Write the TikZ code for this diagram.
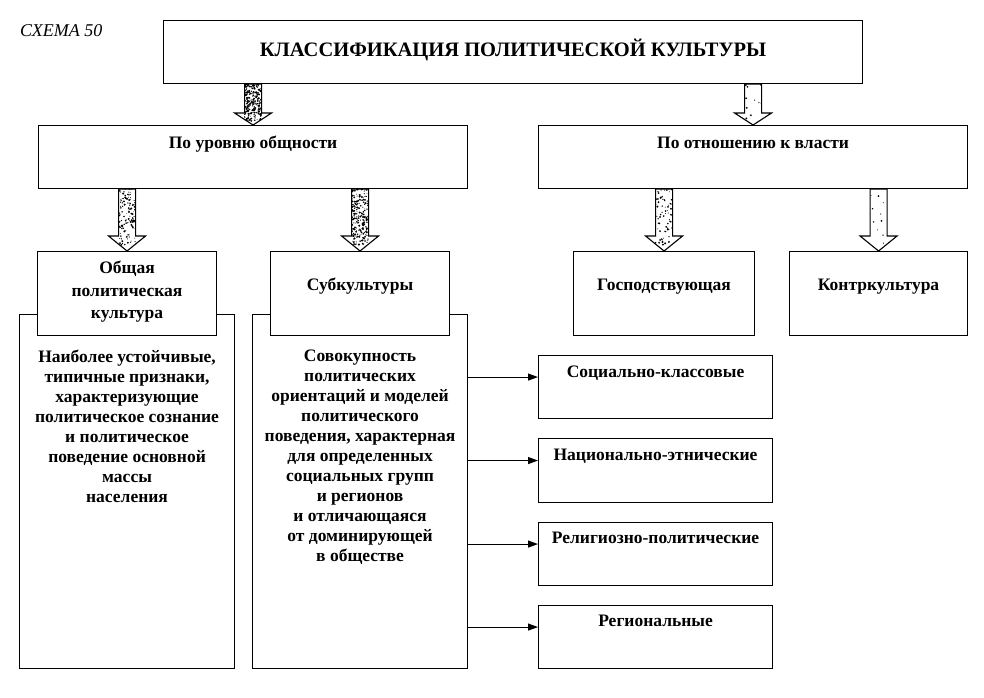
\documentclass[tikz,border=0pt]{standalone}
\usepackage{fontspec}
\setmainfont{Liberation Serif}
\usetikzlibrary{calc,arrows.meta}
\tikzset{
  box/.style={draw, line width=1.1pt, fill=white, inner sep=0pt, anchor=north west},
  txt/.style={font=\bfseries\fontsize{17.5}{20}\selectfont, align=center, inner sep=0pt},
  conn/.style={line width=1.1pt, -{Triangle[length=10pt,width=7pt]}},
}
\newcommand\hollowarrow[5]{%
  \coordinate (ha-s) at (#1.south -| #2.north);
  \coordinate (ha-e) at (#2.north);
  \fill[white] ([xshift=-8.5pt]ha-s) -- ([xshift=-8.5pt,yshift=#3]ha-e) -- ([xshift=-18.5pt,yshift=#3]ha-e) -- (ha-e) -- ([xshift=18.5pt,yshift=#3]ha-e) -- ([xshift=8.5pt,yshift=#3]ha-e) -- ([xshift=8.5pt]ha-s) -- cycle;
  \begin{scope}
    \clip ([xshift=-8.5pt]ha-s) -- ([xshift=-8.5pt,yshift=#3]ha-e) -- ([xshift=-18.5pt,yshift=#3]ha-e) -- (ha-e) -- ([xshift=18.5pt,yshift=#3]ha-e) -- ([xshift=8.5pt,yshift=#3]ha-e) -- ([xshift=8.5pt]ha-s) -- cycle;
    \pgfmathsetseed{#5}
    \foreach \k in {1,...,#4}{%
      \pgfmathsetmacro\rr{0.4+0.75*rnd}%
      \pgfmathsetmacro\ff{0.9*rnd}%
      \pgfmathsetmacro\dx{(rnd-0.5)*17}%
      \fill ($(ha-s)!\ff!(ha-e)+(\dx,0)$) circle (\rr pt);
    }
  \end{scope}
  \draw[line width=1.1pt, line join=miter] ([xshift=-8.5pt]ha-s) -- ([xshift=-8.5pt,yshift=#3]ha-e) -- ([xshift=-18.5pt,yshift=#3]ha-e) -- (ha-e) -- ([xshift=18.5pt,yshift=#3]ha-e) -- ([xshift=8.5pt,yshift=#3]ha-e) -- ([xshift=8.5pt]ha-s) -- cycle;
}
\begin{document}
\begin{tikzpicture}[x=1pt,y=-1pt]
\useasboundingbox (0,0) rectangle (984,697);
\fill[white] (0,0) rectangle (984,697);

\node[anchor=base west, inner sep=0pt, font=\itshape\fontsize{18}{20}\selectfont] (schema) at (20,36) {СХЕМА 50};

% boxes
\node[box, minimum width=699pt, minimum height=63pt] (title) at (163,20) {};
\node[box, minimum width=429pt, minimum height=63pt] (mid1) at (38,125) {};
\node[box, minimum width=429pt, minimum height=63pt] (mid2) at (538,125) {};
\node[box, minimum width=215pt, minimum height=354pt] (big1) at (19,314) {};
\node[box, minimum width=215pt, minimum height=354pt] (big2) at (252,314) {};
\node[box, minimum width=179pt, minimum height=84pt] (h1) at (37,251) {};
\node[box, minimum width=179pt, minimum height=84pt] (h2) at (270,251) {};
\node[box, minimum width=181pt, minimum height=84pt] (h3) at (573,251) {};
\node[box, minimum width=178pt, minimum height=84pt] (h4) at (789,251) {};
\node[box, minimum width=234pt, minimum height=63pt] (r1) at (538,355) {};
\node[box, minimum width=234pt, minimum height=64pt] (r2) at (538,438) {};
\node[box, minimum width=234pt, minimum height=63pt] (r3) at (538,522) {};
\node[box, minimum width=234pt, minimum height=63pt] (r4) at (538,605) {};

% texts
\node[txt, anchor=base, font=\bfseries\fontsize{20.5}{24}\selectfont] (title-t) at (title.center |- 0,56.5) {КЛАССИФИКАЦИЯ ПОЛИТИЧЕСКОЙ КУЛЬТУРЫ};
\node[txt, anchor=base] (mid1-t) at (mid1.center |- 0,148) {По уровню общности};
\node[txt, anchor=base] (mid2-t) at (mid2.center |- 0,148) {По отношению к власти};
\node[txt, anchor=north, font=\bfseries\fontsize{17.5}{22.5}\selectfont] (h1-t) at (h1.center |- 0,261) {Общая\\политическая\\культура};
\node[txt, anchor=base] (h2-t) at (h2.center |- 0,290) {Субкультуры};
\node[txt, anchor=base] (h3-t) at (h3.center |- 0,290) {Господствующая};
\node[txt, anchor=base] (h4-t) at (h4.center |- 0,290) {Контркультура};
\node[txt, anchor=north] (big1-t) at (big1.center |- 0,350) {Наиболее устойчивые,\\типичные признаки,\\характеризующие\\политическое сознание\\и политическое\\поведение основной\\массы\\населения};
\node[txt, anchor=north] (big2-t) at (big2.center |- 0,350) {Совокупность\\политических\\ориентаций и моделей\\политического\\поведения, характерная\\для определенных\\социальных групп\\и регионов\\и отличающаяся\\от доминирующей\\в обществе};
\node[txt, anchor=base] (r1-t) at (r1.center |- 0,377) {Социально-классовые};
\node[txt, anchor=base] (r2-t) at (r2.center |- 0,460) {Национально-этнические};
\node[txt, anchor=base] (r3-t) at (r3.center |- 0,543) {Религиозно-политические};
\node[txt, anchor=base] (r4-t) at (r4.center |- 0,626) {Региональные};

% block arrows
\hollowarrow{title}{mid1}{12pt}{240}{11}
\hollowarrow{title}{mid2}{12pt}{10}{12}
\hollowarrow{mid1}{h1}{15pt}{120}{13}
\hollowarrow{mid1}{h2}{15pt}{210}{14}
\hollowarrow{mid2}{h3}{15pt}{70}{15}
\hollowarrow{mid2}{h4}{15pt}{10}{16}

% connectors
\foreach \r in {r1,r2,r3,r4}{
  \draw[conn] ([yshift=10pt]\r.west -| big2.east) -- ([yshift=10pt]\r.west);
}
\end{tikzpicture}
\end{document}
